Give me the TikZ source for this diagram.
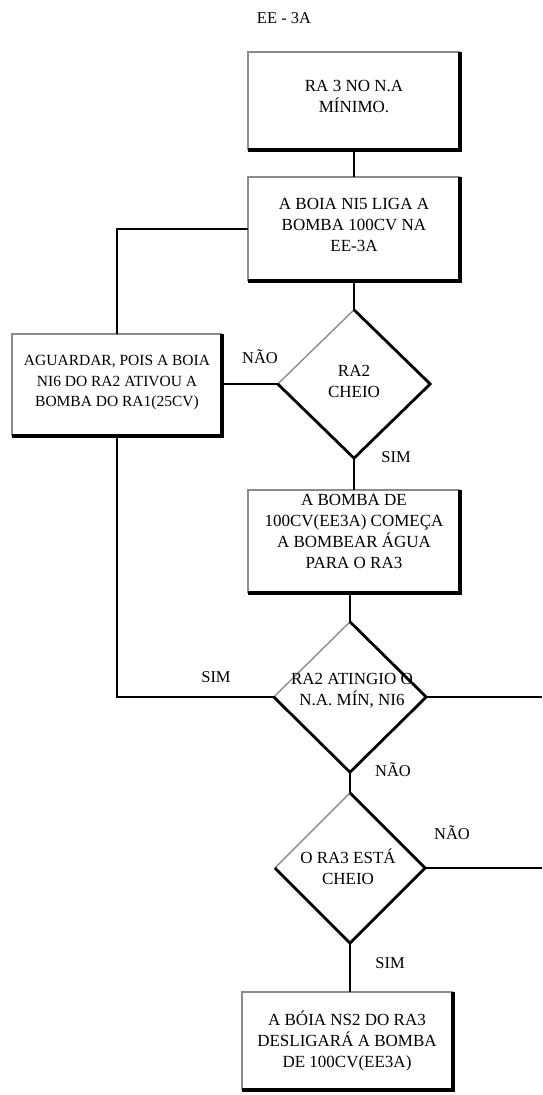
\documentclass[tikz,border=0pt]{standalone}
\usepackage{fontspec}
\setmainfont{Liberation Serif}
\usetikzlibrary{shapes.geometric}
\newcommand{\bxedges}[1]{%
  \draw[lite] (#1.south west) |- (#1.north east);
  \draw[heavy] (#1.north east) |- (#1.south west);}
\newcommand{\diaedges}[1]{%
  \draw[lite] (#1.west) -- (#1.north);
  \draw[dline] (#1.north) -- (#1.east) -- (#1.south) -- (#1.west);}
\begin{document}
\begin{tikzpicture}[x=1pt,y=-1pt,
  boxarea/.style={draw=none,inner sep=0pt,rectangle},
  dia/.style={draw=none,inner sep=0pt,shape=diamond},
  lite/.style={draw=black!45,line width=1.4pt},
  heavy/.style={draw=black,line width=3.8pt,line join=miter},
  dline/.style={draw=black,line width=2.8pt,line join=miter},
  conn/.style={draw=black,line width=2.8pt},
  txt/.style={align=center,font=\fontsize{17}{21}\selectfont,inner sep=0pt},
  txtn/.style={align=center,font=\fontsize{15.5}{20.5}\selectfont,inner sep=0pt},
  lbl/.style={font=\fontsize{16.5}{19}\selectfont,inner sep=0pt}]
\useasboundingbox (0,0) rectangle (542,1095);

% boxes
\node[boxarea,minimum width=212pt,minimum height=98pt] (b1) at (354,101) {};
\node[boxarea,minimum width=212pt,minimum height=104pt] (b2) at (354,229) {};
\node[boxarea,minimum width=210pt,minimum height=102pt] (bl) at (117,385) {};
\node[boxarea,minimum width=212pt,minimum height=103pt] (b3) at (354,541.5) {};
\node[boxarea,minimum width=211pt,minimum height=98pt] (b4) at (347.5,1041) {};

% diamonds
\node[dia,minimum width=152pt,minimum height=148pt] (d1) at (354,384) {};
\node[dia,minimum width=152pt,minimum height=150pt] (d2) at (350,697) {};
\node[dia,minimum width=150pt,minimum height=150pt] (d3) at (350,868) {};

\bxedges{b1}
\bxedges{b2}
\bxedges{bl}
\bxedges{b3}
\bxedges{b4}
\diaedges{d1}
\diaedges{d2}
\diaedges{d3}

% texts
\node[txt] (t1) at (354,96) {RA 3 NO N.A\\MÍNIMO.};
\node[txt] (t2) at (354,225) {A BOIA NI5 LIGA A\\BOMBA 100CV NA\\EE-3A};
\node[txtn] (tl) at (117,383) {AGUARDAR, POIS A BOIA\\NI6 DO RA2 ATIVOU A\\BOMBA DO RA1(25CV)};
\node[txt] (t3) at (354,531) {A BOMBA DE\\100CV(EE3A) COMEÇA\\A BOMBEAR ÁGUA\\PARA O RA3};
\node[txt] (t4) at (347,1041) {A BÓIA NS2 DO RA3\\DESLIGARÁ A BOMBA\\DE 100CV(EE3A)};
\node[txt] (td1) at (354,381) {RA2\\CHEIO};
\node[txt] (td2) at (352,691) {RA2 ATINGIO O\\N.A. MÍN, NI6};
\node[txt] (td3) at (348,867) {O RA3 ESTÁ\\CHEIO};

% connectors
\coordinate (rt) at (542,0);
\draw[conn] (b1.south) -- (b2.north);
\draw[conn] (b2.south) -- (d1.north);
\draw[conn] (b2.west) -| (bl.north);
\draw[conn] (d1.west) -- (d1.west -| bl.east);
\draw[conn] (bl.south) |- (d2.west);
\draw[conn] (d1.south) -- (b3.north);
\draw[conn] (b3.south -| d2.north) -- (d2.north);
\draw[conn] (d2.east) -- (d2.east -| rt);
\draw[conn] (d2.south) -- (d3.north);
\draw[conn] (d3.east) -- (d3.east -| rt);
\draw[conn] (d3.south) -- (d3.south |- b4.north);

% labels
\node[lbl] (ttl) at (284,18) {EE - 3A};
\node[lbl] (n1) at (260,357) {NÃO};
\node[lbl] (s1) at (396,457) {SIM};
\node[lbl] (s2) at (216,677) {SIM};
\node[lbl] (n2) at (393,770) {NÃO};
\node[lbl] (n3) at (452,833) {NÃO};
\node[lbl] (s3) at (390,963) {SIM};
\end{tikzpicture}
\end{document}
